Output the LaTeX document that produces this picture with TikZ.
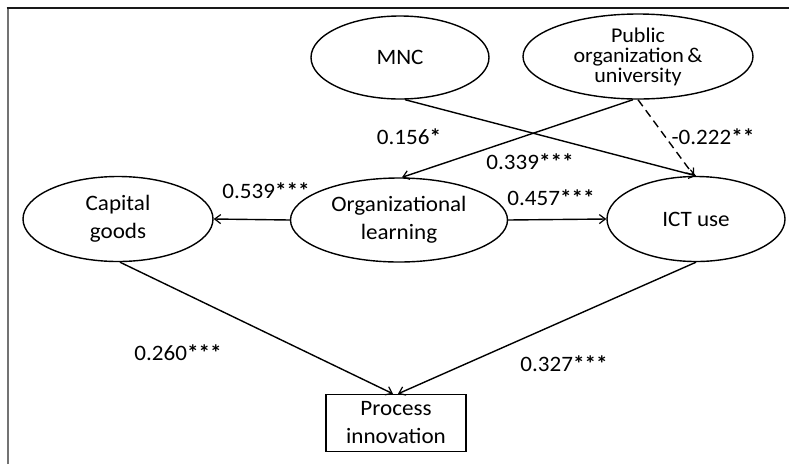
\documentclass[tikz,border=0pt]{standalone}
\usepackage{fontspec}
\setmainfont{Carlito}[FakeStretch=1.05]
\usetikzlibrary{shapes.geometric,arrows.meta}

\tikzset{
  latent/.style={ellipse, draw, line width=1.4pt, inner sep=0pt, align=center,
    font=\fontsize{22}{28}\selectfont},
  observed/.style={rectangle, draw, line width=1.4pt, inner sep=0pt, align=center,
    font=\fontsize{22}{28}\selectfont},
  path/.style={line width=1.4pt, -{Straight Barb[length=6pt,width=9pt,line width=1.2pt]}},
  coef/.style={font=\fontsize{22}{26}\selectfont, inner sep=0pt}
}
% significance stars, set a little heavier than the digits
\newcommand{\sig}[1]{{\bfseries #1}}

\begin{document}
\begin{tikzpicture}[x=1pt, y=-1pt]
  \useasboundingbox (0,0) rectangle (789,464);

  % open frame: left and top edges only
  \draw[line width=2pt, black!55] (7.5,464) -- (7.5,8);
  \draw[line width=1.6pt, black!90] (6.5,8) -- (789,8);

  % constructs
  \node[latent, minimum width=178pt, minimum height=83pt] (mnc) at (400,57.5) {MNC};
  \node[latent, minimum width=230pt, minimum height=85pt,
        font=\fontsize{21}{20}\selectfont] (pub) at (638,56.5)
        {Public\\organization\,\&\\university};
  \node[latent, minimum width=190pt, minimum height=85pt] (cap) at (118,219) {Capital\\goods};
  \node[latent, minimum width=217pt, minimum height=84pt] (org) at (399,220) {Organizational\\learning};
  \node[latent, minimum width=178pt, minimum height=85pt] (ict) at (696,219) {ICT use};
  \node[observed, minimum width=140pt, minimum height=57pt] (proc) at (396,423) {Process\\innovation};

  % structural paths
  \draw[path] ([xshift=5pt]mnc.south) -- (ict.north);
  \draw[path] ([xshift=-5pt]pub.south) -- ([xshift=3pt]org.north);
  \draw[path, dash pattern=on 8pt off 5pt] (pub.south) -- ([xshift=-2pt]ict.north);
  \draw[path] (org.west) -- (cap.east);
  \draw[path] (org.east) -- (ict.west);
  \draw[path] ([xshift=2pt]cap.south) -- ([xshift=-3pt]proc.north);
  \draw[path] (ict.south) -- ([xshift=2pt]proc.north);

  % path coefficients
  \node[coef] (c1) at (409,137) {0.156\sig{*}};
  \node[coef] (c2) at (713,137) {-0.222\sig{**}};
  \node[coef] (c3) at (530,162) {0.339\sig{***}};
  \node[coef] (c4) at (266,191) {0.539\sig{***}};
  \node[coef] (c5) at (551,198) {0.457\sig{***}};
  \node[coef] (c6) at (178,353) {0.260\sig{***}};
  \node[coef] (c7) at (564,364) {0.327\sig{***}};
\end{tikzpicture}
\end{document}
